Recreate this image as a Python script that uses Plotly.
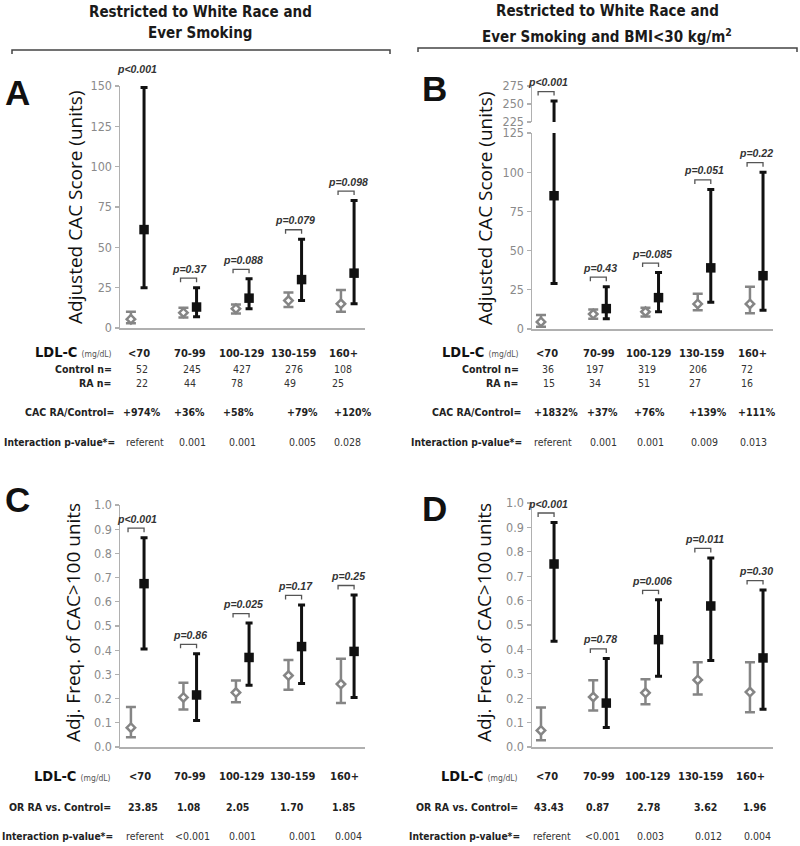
import plotly.graph_objects as go

W, H = 800, 846


def fx(p):
    return p / W


def fy(p):
    return 1 - p / H


categories = ["<70", "70-99", "100-129", "130-159", "160+"]

# ---------------- Panel A: Adjusted CAC score, white race + ever smoking
a_ctl = [5.5, 9.5, 12, 17, 15]
a_ctl_lo = [3, 6.5, 9, 13, 10]
a_ctl_hi = [10, 12.5, 14.5, 22, 23.5]
a_ra = [61, 13, 18.5, 30, 34]
a_ra_lo = [25, 7, 12, 17, 15]
a_ra_hi = [149, 25, 30.5, 55, 79]
a_p = ["p<0.001", "p=0.37", "p=0.088", "p=0.079", "p=0.098"]
a_control_n = ["52", "245", "427", "276", "108"]
a_ra_n = ["22", "44", "78", "49", "25"]
a_ratio = ["+974%", "+36%", "+58%", "+79%", "+120%"]
a_inter = ["referent", "0.001", "0.001", "0.005", "0.028"]

# ---------------- Panel B: + BMI<30
b_ctl = [4.5, 9.5, 11, 16, 16]
b_ctl_lo = [1.5, 6.5, 8, 12, 10]
b_ctl_hi = [9, 12.5, 13.5, 22.5, 27]
b_ra = [85, 13, 20, 39, 34]
b_ra_lo = [29, 6.5, 11, 17, 12]
b_ra_hi = [254, 27, 36, 89, 100]
b_p = ["p<0.001", "p=0.43", "p=0.085", "p=0.051", "p=0.22"]
b_control_n = ["36", "197", "319", "206", "72"]
b_ra_n = ["15", "34", "51", "27", "16"]
b_ratio = ["+1832%", "+37%", "+76%", "+139%", "+111%"]
b_inter = ["referent", "0.001", "0.001", "0.009", "0.013"]

# ---------------- Panel C: Adj. freq. of CAC>100, white race + ever smoking
c_ctl = [0.08, 0.205, 0.225, 0.295, 0.26]
c_ctl_lo = [0.04, 0.155, 0.185, 0.237, 0.182]
c_ctl_hi = [0.165, 0.265, 0.275, 0.36, 0.365]
c_ra = [0.675, 0.215, 0.37, 0.415, 0.395]
c_ra_lo = [0.405, 0.11, 0.255, 0.262, 0.205]
c_ra_hi = [0.865, 0.385, 0.512, 0.587, 0.628]
c_p = ["p<0.001", "p=0.86", "p=0.025", "p=0.17", "p=0.25"]
c_or = ["23.85", "1.08", "2.05", "1.70", "1.85"]
c_inter = ["referent", "<0.001", "0.001", "0.001", "0.004"]

# ---------------- Panel D: + BMI<30
d_ctl = [0.068, 0.205, 0.222, 0.275, 0.225]
d_ctl_lo = [0.028, 0.15, 0.175, 0.215, 0.142]
d_ctl_hi = [0.162, 0.274, 0.278, 0.347, 0.347]
d_ra = [0.75, 0.18, 0.44, 0.578, 0.365]
d_ra_lo = [0.433, 0.08, 0.29, 0.355, 0.155]
d_ra_hi = [0.92, 0.363, 0.603, 0.775, 0.643]
d_p = ["p<0.001", "p=0.78", "p=0.006", "p=0.011", "p=0.30"]
d_or = ["43.43", "0.87", "2.78", "3.62", "1.96"]
d_inter = ["referent", "<0.001", "0.003", "0.012", "0.004"]

# ---------------- styles
COND = "DejaVu Sans Condensed, Liberation Sans Narrow, Liberation Sans"
RA_COL = "#111111"
CTL_COL = "#858585"
AX_COL = "#b0b0b0"
TICK_FONT = dict(family=COND, size=12.5, color="#8a8a8a")
P_FONT = dict(family="Liberation Sans", size=10.5, color="#333333")
OFF = 0.125

fig = go.Figure()

LEFT_X = (120, 365, -0.333, 4.333)
RIGHT_X = (532, 773, -0.297, 4.316)


def xaxis_cfg(spec, anchor):
    return dict(domain=[fx(spec[0]), fx(spec[1])], range=[spec[2], spec[3]],
                anchor=anchor, showline=True, linecolor=AX_COL, linewidth=1.5,
                showticklabels=False, ticks="", showgrid=False, zeroline=False,
                automargin=False, fixedrange=True)


def yaxis_cfg(p0, p1, rng, tickvals, anchor, fmt=None):
    d = dict(domain=[fy(p0), fy(p1)], range=rng, anchor=anchor, tickvals=tickvals,
             ticks="outside", ticklen=4, tickwidth=1.2, tickcolor=AX_COL,
             showline=True, linecolor=AX_COL, linewidth=1.5, tickfont=TICK_FONT,
             showgrid=False, zeroline=False, automargin=False, fixedrange=True)
    if fmt:
        d["tickformat"] = fmt
    return d


fig.update_layout(
    xaxis=xaxis_cfg(LEFT_X, "y"),
    yaxis=yaxis_cfg(328, 86, [0, 150], [0, 25, 50, 75, 100, 125, 150], "x"),
    xaxis2=xaxis_cfg(RIGHT_X, "y2"),
    yaxis2=yaxis_cfg(329, 133, [0, 125], [0, 25, 50, 75, 100, 125], "x2"),
    yaxis3=yaxis_cfg(122, 86, [225, 275], [225, 250, 275], "x2"),
    xaxis3=xaxis_cfg(LEFT_X, "y4"),
    yaxis4=yaxis_cfg(747, 505, [0, 1], [i / 10 for i in range(11)], "x3", ".1f"),
    xaxis4=xaxis_cfg(RIGHT_X, "y5"),
    yaxis5=yaxis_cfg(747, 503, [0, 1], [i / 10 for i in range(11)], "x4", ".1f"),
)


def add_series(xa, ya, ctl, lo, hi, ra, rlo, rhi):
    idx = list(range(len(categories)))
    fig.add_trace(go.Scatter(
        x=[i - OFF for i in idx], y=ctl, mode="markers", xaxis=xa, yaxis=ya,
        showlegend=False,
        marker=dict(symbol="diamond", size=6.5, color="white",
                    line=dict(color=CTL_COL, width=2.5)),
        error_y=dict(type="data", symmetric=False,
                     array=[hi[i] - ctl[i] for i in idx],
                     arrayminus=[ctl[i] - lo[i] for i in idx],
                     color=CTL_COL, thickness=2.5, width=5)))
    fig.add_trace(go.Scatter(
        x=[i + OFF for i in idx], y=ra, mode="markers", xaxis=xa, yaxis=ya,
        showlegend=False,
        marker=dict(symbol="square", size=9.5, color=RA_COL),
        error_y=dict(type="data", symmetric=False,
                     array=[rhi[i] - ra[i] for i in idx],
                     arrayminus=[ra[i] - rlo[i] for i in idx],
                     color=RA_COL, thickness=3, width=3.5)))


def add_pvals(xa, ya, rhi, pvals, ppu, idx=None):
    idx = list(range(len(categories))) if idx is None else idx
    up = 9.5 / ppu
    tk = 4 / ppu
    for i in idx:
        yb = rhi[i] + up
        fig.add_trace(go.Scatter(
            x=[i - 0.18, i - 0.18, i + 0.125, i + 0.125],
            y=[yb - tk, yb, yb, yb - tk], mode="lines", xaxis=xa, yaxis=ya,
            showlegend=False, line=dict(color="#555555", width=1.3),
            hoverinfo="skip", cliponaxis=False))
        fig.add_annotation(x=i, y=rhi[i], xref=xa, yref=ya, yshift=19,
                           text="<b><i>%s</i></b>" % pvals[i], showarrow=False,
                           font=P_FONT, xanchor="center", yanchor="middle")


# Panel A
add_series("x", "y", a_ctl, a_ctl_lo, a_ctl_hi, a_ra, a_ra_lo, a_ra_hi)
add_pvals("x", "y", a_ra_hi, a_p, 242 / 150)

# Panel B (broken axis: lower 0-125, upper 225-275)
add_series("x2", "y2", b_ctl, b_ctl_lo, b_ctl_hi, b_ra, b_ra_lo, b_ra_hi)
big = [i for i in range(len(categories)) if b_ra_hi[i] > 125]
small = [i for i in range(len(categories)) if b_ra_hi[i] <= 125]
fig.add_trace(go.Scatter(
    x=[i + OFF for i in big], y=[b_ra[i] for i in big], mode="markers",
    xaxis="x2", yaxis="y3", showlegend=False,
    marker=dict(symbol="square", size=9.5, color=RA_COL),
    error_y=dict(type="data", symmetric=False,
                 array=[b_ra_hi[i] - b_ra[i] for i in big],
                 arrayminus=[b_ra[i] - b_ra_lo[i] for i in big],
                 color=RA_COL, thickness=3, width=3.5)))
add_pvals("x2", "y2", b_ra_hi, b_p, 196 / 125, idx=small)
add_pvals("x2", "y3", b_ra_hi, b_p, 36 / 50, idx=big)

# Panel C
add_series("x3", "y4", c_ctl, c_ctl_lo, c_ctl_hi, c_ra, c_ra_lo, c_ra_hi)
add_pvals("x3", "y4", c_ra_hi, c_p, 242 / 1)

# Panel D
add_series("x4", "y5", d_ctl, d_ctl_lo, d_ctl_hi, d_ra, d_ra_lo, d_ra_hi)
add_pvals("x4", "y5", d_ra_hi, d_p, 244 / 1)


# ---------------- text
def ann(x, y, text, size=11, weight=400, color="#222222", anchor="center",
        family=COND, angle=0):
    fig.add_annotation(x=fx(x), y=fy(y), xref="paper", yref="paper", text=text,
                       showarrow=False, xanchor=anchor, yanchor="middle",
                       textangle=angle, borderpad=0,
                       font=dict(family=family, size=size, color=color,
                                 weight=weight))


ann(200, 12, "Restricted to White Race and", size=15, weight=700, color="#1a1a1a")
ann(200, 33, "Ever Smoking", size=15, weight=700, color="#1a1a1a")
ann(607, 11, "Restricted to White Race and", size=15, weight=700, color="#1a1a1a")
ann(607, 36, "Ever Smoking and BMI<30 kg/m<sup>2</sup>", size=15, weight=700,
    color="#1a1a1a")

for (x0, x1, yy) in [(12, 390, 50), (418, 797, 48)]:
    fig.add_shape(type="path", xref="paper", yref="paper",
                  path="M %f,%f L %f,%f L %f,%f L %f,%f" % (
                      fx(x0), fy(yy + 4), fx(x0), fy(yy), fx(x1), fy(yy),
                      fx(x1), fy(yy + 4)),
                  line=dict(color="#444444", width=1.5))

for (lx, ly, letter) in [(17, 92, "A"), (434, 88, "B"), (17, 499, "C"), (434, 508, "D")]:
    ann(lx, ly, letter, size=35, weight=700, color="#111111", family="Liberation Sans")

TITLE_FAM = "Open Sans"
ann(75, 208, "Adjusted CAC Score (units)", size=19, angle=-90, color="#111111",
    family=TITLE_FAM)
ann(485, 208, "Adjusted CAC Score (units)", size=19, angle=-90, color="#111111",
    family=TITLE_FAM)
ann(73, 623, "Adj. Freq. of CAC>100 units", size=19, angle=-90, color="#111111",
    family=TITLE_FAM)
ann(484, 623, "Adj. Freq. of CAC>100 units", size=19, angle=-90, color="#111111",
    family=TITLE_FAM)

LDL = ("<b>LDL-C</b> <span style='font-size:8.5px;color:#555555'>(mg/dL)</span>")

# table column positions (pixels)
colsA = dict(cat=[139, 190, 242, 294, 343], cn=[142, 192, 242, 294, 343],
             rn=[142, 190, 237, 290, 338], ratio=[142, 189, 238, 302, 353],
             inter=[145, 192, 242, 302, 347])
colsB = dict(cat=[547, 599, 649, 702, 752], cn=[548, 595, 647, 698, 747],
             rn=[549, 595, 644, 695, 747], ratio=[556, 602, 649, 708, 757],
             inter=[553, 603, 650, 704, 753])
colsC = dict(cat=[140, 190, 242, 293, 344], orr=[143, 188, 237, 292, 343],
             inter=[145, 192, 242, 302, 348])
colsD = dict(cat=[547, 599, 648, 701, 750], orr=[549, 597, 648, 705, 755],
             inter=[552, 602, 650, 708, 757])

LAB = 10.5
VAL = 10.5


def table_top(cols, right, control_n, ra_n, ratio, inter):
    ann(right, 352, LDL, size=14.5, anchor="right", color="#111111")
    ann(right, 369, "<b>Control n=</b>", size=LAB, anchor="right")
    ann(right, 383, "<b>RA n=</b>", size=LAB, anchor="right")
    ann(right + 2, 412, "<b>CAC RA/Control=</b>", size=LAB, anchor="right")
    ann(right + 3, 442, "<b>Interaction p-value*=</b>", size=10.2, anchor="right")
    for i in range(len(categories)):
        ann(cols["cat"][i], 353, "<b>%s</b>" % categories[i], size=11)
        ann(cols["cn"][i], 369, control_n[i], size=VAL, color="#333333")
        ann(cols["rn"][i], 383, ra_n[i], size=VAL, color="#333333")
        ann(cols["ratio"][i], 412, "<b>%s</b>" % ratio[i], size=10.5)
        ann(cols["inter"][i], 442, inter[i], size=VAL, color="#333333")


def table_bottom(cols, right, orr, inter):
    ann(right, 776, LDL, size=14.5, anchor="right", color="#111111")
    ann(right, 807, "<b>OR RA vs. Control=</b>", size=LAB, anchor="right")
    ann(right + 2, 836, "<b>Interaction p-value*=</b>", size=10.2, anchor="right")
    for i in range(len(categories)):
        ann(cols["cat"][i], 776, "<b>%s</b>" % categories[i], size=11)
        ann(cols["orr"][i], 807, "<b>%s</b>" % orr[i], size=10.5)
        ann(cols["inter"][i], 836, inter[i], size=VAL, color="#333333")


table_top(colsA, 113, a_control_n, a_ra_n, a_ratio, a_inter)
table_top(colsB, 520, b_control_n, b_ra_n, b_ratio, b_inter)
table_bottom(colsC, 112, c_or, c_inter)
table_bottom(colsD, 519, d_or, d_inter)

fig.update_layout(width=W, height=H,
                  margin=dict(l=0, r=0, t=0, b=0, pad=0, autoexpand=False),
                  paper_bgcolor="white", plot_bgcolor="white",
                  font=dict(family=COND), showlegend=False)

fig.write_html("out.html",
               config={"displayModeBar": False, "staticPlot": True},
               post_script="document.body.style.margin='0';"
                           "document.body.style.overflow='hidden';")
